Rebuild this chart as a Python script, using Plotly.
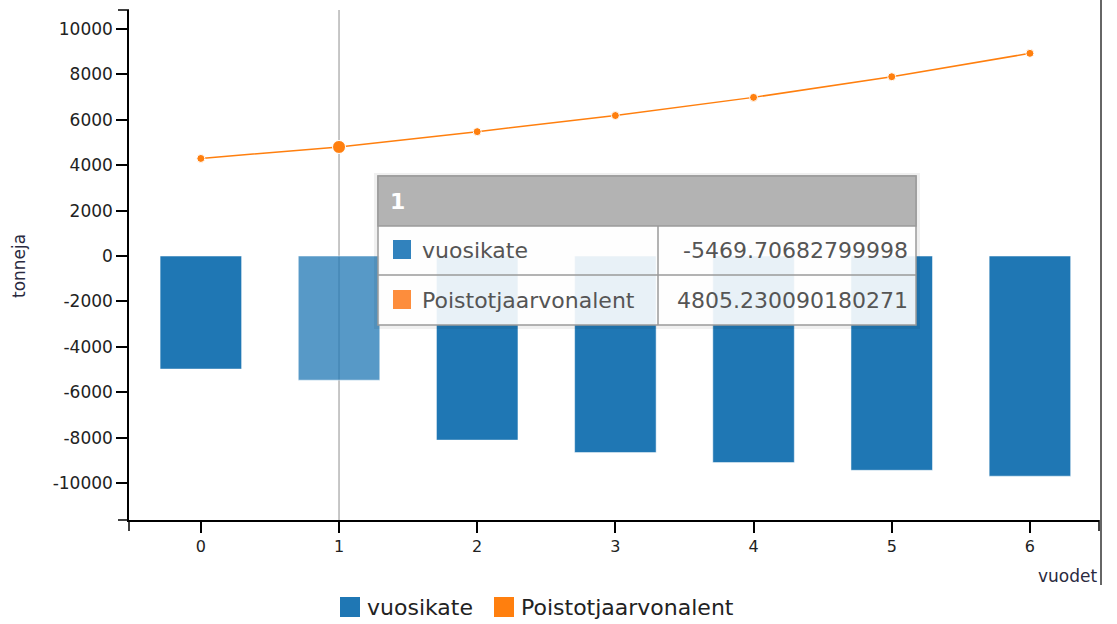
import plotly.graph_objects as go

# ---- data ----
years = [0, 1, 2, 3, 4, 5, 6]
vuosikate = [-4980, -5469.70682799998, -8110, -8660, -9100, -9440, -9700]
poistot = [4300, 4805.230090180271, 5480, 6190, 6990, 7900, 8930]
series_names = ["vuosikate", "Poistotjaarvonalent"]
y_ticks = [-10000, -8000, -6000, -4000, -2000, 0, 2000, 4000, 6000, 8000, 10000]
hover_index = 1
x_title = "vuodet"
y_title = "tonneja"

BLUE = "#1f77b4"
ORANGE = "#ff7f0e"
FONT = "DejaVu Sans"
TICKLEN = 11

W, H = 1117, 624
L, R, T, B = 129, 18, 10, 104
PW = W - L - R
PH = H - T - B


def px(x):
    return (x - L) / PW


def py(y):
    return (H - B - y) / PH


bar_colors = [BLUE if i != hover_index else "rgba(31,119,180,0.75)" for i in range(len(years))]
marker_sizes = [8 if i != hover_index else 13 for i in range(len(years))]

fig = go.Figure()
fig.add_trace(go.Bar(
    x=years, y=vuosikate, name=series_names[0], width=0.59,
    marker=dict(color=bar_colors, line=dict(color="rgba(255,255,255,0.5)", width=1)),
    showlegend=False, hoverinfo="skip",
))
fig.add_trace(go.Scatter(
    x=years, y=poistot, name=series_names[1], mode="lines+markers",
    line=dict(color=ORANGE, width=1.5),
    marker=dict(color=ORANGE, size=marker_sizes, opacity=1),
    showlegend=False, hoverinfo="skip",
))

shapes = []
annotations = []

# hover guide line (behind the marks)
shapes.append(dict(type="line", xref="x", yref="paper", x0=years[hover_index], x1=years[hover_index],
                   y0=0, y1=1, line=dict(color="#b5b5b5", width=1.5), layer="below"))

# outer end ticks of axes
shapes.append(dict(type="line", xref="paper", yref="paper", xsizemode="pixel", xanchor=0,
                   x0=-TICKLEN, x1=0, y0=1, y1=1, line=dict(color="black", width=1.5)))
shapes.append(dict(type="line", xref="paper", yref="paper", xsizemode="pixel", xanchor=0,
                   x0=-TICKLEN, x1=0, y0=0, y1=0, line=dict(color="black", width=1.5)))
shapes.append(dict(type="line", xref="paper", yref="paper", ysizemode="pixel", yanchor=0,
                   x0=0, x1=0, y0=-TICKLEN, y1=0, line=dict(color="black", width=1.5)))
shapes.append(dict(type="line", xref="paper", yref="paper", ysizemode="pixel", yanchor=0,
                   x0=1, x1=1, y0=-TICKLEN, y1=0, line=dict(color="black", width=1.5)))
# container right border
shapes.append(dict(type="line", xref="paper", yref="paper", x0=px(1101), x1=px(1101),
                   y0=py(585), y1=py(0), line=dict(color="#333333", width=1.5)))

# ---- tooltip ----
tx0, tx1 = 378, 916
ty0, th, tr1, ty1 = 176, 226, 275, 325
tcol = 658
shapes.append(dict(type="rect", xref="paper", yref="paper", x0=px(tx0 - 4), x1=px(tx1 + 4),
                   y0=py(ty1 + 4), y1=py(ty0 - 3), line=dict(width=0),
                   fillcolor="rgba(0,0,0,0.06)", layer="above"))
shapes.append(dict(type="rect", xref="paper", yref="paper", x0=px(tx0), x1=px(tx1),
                   y0=py(ty1), y1=py(ty0), line=dict(color="#9a9a9a", width=1.5),
                   fillcolor="rgba(255,255,255,0.9)", layer="above"))
shapes.append(dict(type="rect", xref="paper", yref="paper", x0=px(tx0), x1=px(tx1),
                   y0=py(th), y1=py(ty0), line=dict(color="#9a9a9a", width=1.5),
                   fillcolor="#b3b3b3", layer="above"))
shapes.append(dict(type="line", xref="paper", yref="paper", x0=px(tx0), x1=px(tx1),
                   y0=py(tr1), y1=py(tr1), line=dict(color="#9a9a9a", width=1.5), layer="above"))
shapes.append(dict(type="line", xref="paper", yref="paper", x0=px(tcol), x1=px(tcol),
                   y0=py(ty1), y1=py(th), line=dict(color="#9a9a9a", width=1.5), layer="above"))
# tooltip colour squares
shapes.append(dict(type="rect", xref="paper", yref="paper", x0=px(393), x1=px(411),
                   y0=py(259), y1=py(240), line=dict(width=0), fillcolor="#3182bd", layer="above"))
shapes.append(dict(type="rect", xref="paper", yref="paper", x0=px(393), x1=px(411),
                   y0=py(309), y1=py(290), line=dict(width=0), fillcolor="#fd8d3c", layer="above"))

annotations.append(dict(xref="paper", yref="paper", x=px(388), y=py(201), xanchor="left", yanchor="middle",
                        text=f"<b>{years[hover_index]}</b>", showarrow=False,
                        font=dict(family=FONT, size=22, color="white")))
annotations.append(dict(xref="paper", yref="paper", x=px(420), y=py(250), xanchor="left", yanchor="middle",
                        text=series_names[0], showarrow=False,
                        font=dict(family=FONT, size=22, color="#555555")))
annotations.append(dict(xref="paper", yref="paper", x=px(420), y=py(300), xanchor="left", yanchor="middle",
                        text=series_names[1], showarrow=False,
                        font=dict(family=FONT, size=22, color="#555555")))
annotations.append(dict(xref="paper", yref="paper", x=px(910), y=py(250), xanchor="right", yanchor="middle",
                        text=repr(vuosikate[hover_index]), showarrow=False,
                        font=dict(family=FONT, size=22, color="#555555")))
annotations.append(dict(xref="paper", yref="paper", x=px(910), y=py(300), xanchor="right", yanchor="middle",
                        text=repr(poistot[hover_index]), showarrow=False,
                        font=dict(family=FONT, size=22, color="#555555")))

# ---- legend (manual) ----
shapes.append(dict(type="rect", xref="paper", yref="paper", x0=px(340), x1=px(360),
                   y0=py(617), y1=py(597), line=dict(width=0), fillcolor=BLUE))
shapes.append(dict(type="rect", xref="paper", yref="paper", x0=px(494), x1=px(514),
                   y0=py(617), y1=py(597), line=dict(width=0), fillcolor=ORANGE))
annotations.append(dict(xref="paper", yref="paper", x=px(365), y=py(607), xanchor="left", yanchor="middle",
                        text=series_names[0], showarrow=False,
                        font=dict(family=FONT, size=22, color="#222222")))
annotations.append(dict(xref="paper", yref="paper", x=px(519), y=py(607), xanchor="left", yanchor="middle",
                        text=series_names[1], showarrow=False,
                        font=dict(family=FONT, size=22, color="#222222")))

# axis titles
annotations.append(dict(xref="paper", yref="paper", x=px(19), y=py(266), xanchor="center", yanchor="middle",
                        text=y_title, textangle=-90, showarrow=False,
                        font=dict(family=FONT, size=17, color="#2a2a40")))
annotations.append(dict(xref="paper", yref="paper", x=1.0, y=py(576), xanchor="right", yanchor="middle",
                        text=x_title, showarrow=False,
                        font=dict(family=FONT, size=17, color="#2a2a40")))

fig.update_layout(
    width=W, height=H,
    margin=dict(l=L, r=R, t=T, b=B),
    paper_bgcolor="white", plot_bgcolor="white",
    shapes=shapes, annotations=annotations,
    showlegend=False,
    font=dict(family=FONT, color="#222222"),
    bargap=0.4,
)
fig.update_xaxes(
    range=[-0.52, 6.5], tickvals=years, ticktext=[str(v) for v in years],
    showgrid=False, zeroline=False, showline=True, linecolor="black", linewidth=1.5,
    ticks="outside", ticklen=TICKLEN, tickwidth=1.5, tickcolor="black",
    tickfont=dict(family=FONT, size=16, color="#222222"),
)
fig.update_yaxes(
    range=[-11630, 10840], tickvals=y_ticks, ticktext=[str(v) for v in y_ticks],
    showgrid=False, zeroline=False, showline=True, linecolor="black", linewidth=1.5,
    ticks="outside", ticklen=TICKLEN, tickwidth=1.5, tickcolor="black",
    tickfont=dict(family=FONT, size=17, color="#222222"),
)

fig.write_html("out.html", config={"displayModeBar": False},
               post_script="document.body.style.margin='0';document.body.style.overflow='hidden';")
